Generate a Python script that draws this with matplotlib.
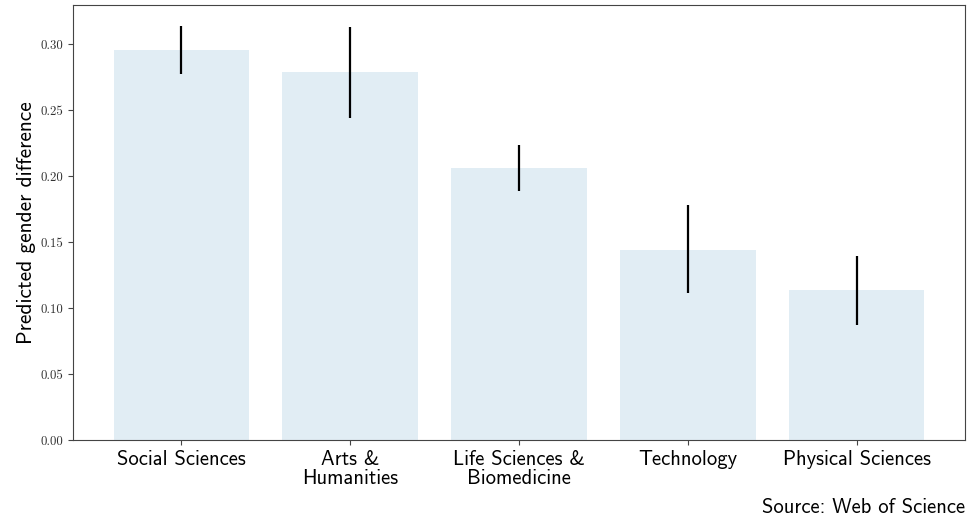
import matplotlib
matplotlib.use('Agg')
import matplotlib.pyplot as plt
import numpy as np

fields = ['Social Sciences', 'Arts &\nHumanities', 'Life Sciences &\nBiomedicine',
          'Technology', 'Physical Sciences']
difference = [0.2954, 0.2787, 0.2058, 0.1443, 0.1139]
err_low = [0.0182, 0.0349, 0.0175, 0.0327, 0.0266]
err_high = [0.0183, 0.0342, 0.0175, 0.0334, 0.0258]

plt.rcParams['axes.formatter.use_mathtext'] = True

figure = plt.figure(figsize=(9.69, 5.22), dpi=100)
axes = figure.add_axes([0.0753, 0.157, 0.9206, 0.833])

x = np.arange(len(fields))
axes.bar(x, difference, width=0.8, color='#e1edf4',
         yerr=[err_low, err_high], error_kw=dict(ecolor='black', elinewidth=1.6, capsize=0))

axes.set_xticks(x)
axes.set_xticklabels(fields, fontfamily='cmss10', fontsize=14.8, linespacing=1.0)
axes.set_yticks(np.arange(0, 0.31, 0.05))
axes.set_yticklabels(['%.2f' % v for v in np.arange(0, 0.31, 0.05)], fontfamily='cmr10',
                     fontsize=9.3, color='#333333')
axes.set_ylabel('Predicted gender difference', fontfamily='cmss10', fontsize=15.3, labelpad=3)

for spine in axes.spines.values():
    spine.set_color('#444444')
axes.tick_params(colors='#444444', labelcolor='black')
axes.tick_params(axis='y', labelcolor='#333333')

axes.text(1.0, -0.155, 'Source: Web of Science', transform=axes.transAxes,
          ha='right', va='center', fontfamily='cmss10', fontsize=14.8)

figure.savefig('out.png', dpi=100)
